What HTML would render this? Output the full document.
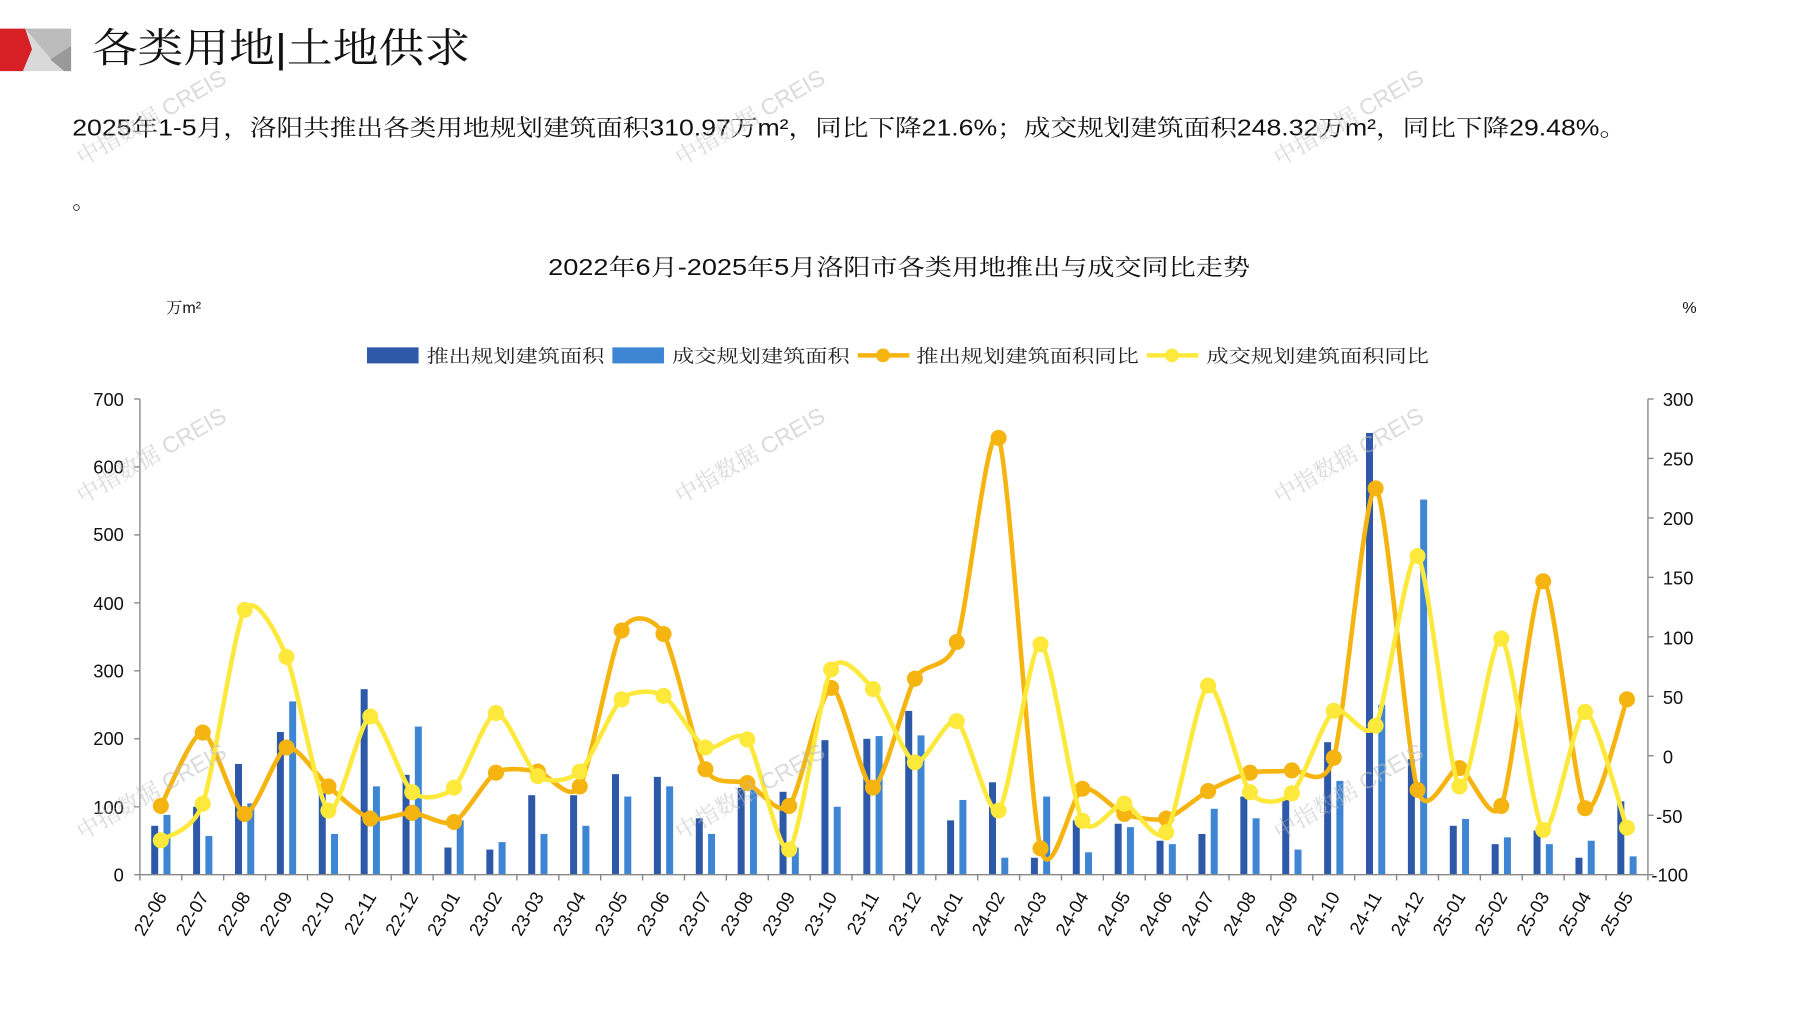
<!DOCTYPE html>
<html><head><meta charset="utf-8">
<style>
html,body{margin:0;padding:0;background:#fff;}
svg{display:block;}
text{font-family:"Liberation Sans","Noto Serif CJK SC",serif;}
</style></head>
<body>
<svg id="s" width="1797" height="1010" viewBox="0 0 1567 881" preserveAspectRatio="none" xmlns="http://www.w3.org/2000/svg">
<rect width="1567" height="881" fill="#fff"/>
<polygon points="0,25 22,25 28,43 20,62 0,62" fill="#d71f26"/>
<polygon points="22,25 62,25 62,62 20,62 28,43" fill="#d9d9d9"/>
<polygon points="22,25 62,25 62,40 45,52" fill="#bcbcbc"/>
<polygon points="44,52 62,40 62,62 56,62" fill="#999"/>
<text x="80" y="54" font-size="35" fill="#111" font-family="Noto Serif CJK SC,serif" textLength="330" lengthAdjust="spacingAndGlyphs">各类用地|土地供求</text>
<text x="63" y="118" font-size="20" fill="#111" textLength="1355" lengthAdjust="spacingAndGlyphs">2025年1-5月，洛阳共推出各类用地规划建筑面积310.97万m²，同比下降21.6%；成交规划建筑面积248.32万m²，同比下降29.48%。</text>
<text x="63" y="182" font-size="20" fill="#111">。</text>
<text x="478" y="240" font-size="20" fill="#111" textLength="612" lengthAdjust="spacingAndGlyphs">2022年6月-2025年5月洛阳市各类用地推出与成交同比走势</text>
<text x="145" y="273" font-size="14" fill="#111">万m²</text>
<text x="1467" y="273" font-size="14" fill="#111">%</text>
<rect x="320" y="303" width="45" height="14" fill="#2e59a8"/>
<text x="372" y="316" font-size="16" fill="#222" textLength="155" lengthAdjust="spacingAndGlyphs">推出规划建筑面积</text>
<rect x="534" y="303" width="45" height="14" fill="#3e86d3"/>
<text x="586" y="316" font-size="16" fill="#222" textLength="155" lengthAdjust="spacingAndGlyphs">成交规划建筑面积</text>
<line x1="748" y1="310" x2="793" y2="310" stroke="#f5b40f" stroke-width="4"/>
<circle cx="770" cy="310" r="6" fill="#f5b40f"/>
<text x="799" y="316" font-size="16" fill="#222" textLength="194" lengthAdjust="spacingAndGlyphs">推出规划建筑面积同比</text>
<line x1="1000" y1="310" x2="1045" y2="310" stroke="#fde93c" stroke-width="4"/>
<circle cx="1022" cy="310" r="6" fill="#fde93c"/>
<text x="1052" y="316" font-size="16" fill="#222" textLength="194" lengthAdjust="spacingAndGlyphs">成交规划建筑面积同比</text>
<g font-size="16" fill="#111" text-anchor="end">
<text x="108" y="354">700</text><text x="108" y="413">600</text><text x="108" y="472">500</text>
<text x="108" y="532">400</text><text x="108" y="591">300</text><text x="108" y="650">200</text>
<text x="108" y="710">100</text><text x="108" y="769">0</text>
</g>
<g font-size="16" fill="#111">
<text x="1450" y="354">300</text><text x="1450" y="406">250</text><text x="1450" y="458">200</text>
<text x="1450" y="510">150</text><text x="1450" y="562">100</text><text x="1450" y="614">50</text>
<text x="1450" y="666">0</text><text x="1444" y="718">-50</text><text x="1440" y="769">-100</text>
</g>
<g id="plot"></g>
<g id="xl" font-size="16" fill="#111" text-anchor="end">
<text transform="translate(146,782) rotate(-60)">22-06</text>
<text transform="translate(182.5,782) rotate(-60)">22-07</text>
<text transform="translate(219,782) rotate(-60)">22-08</text>
<text transform="translate(255.6,782) rotate(-60)">22-09</text>
<text transform="translate(292.1,782) rotate(-60)">22-10</text>
<text transform="translate(328.7,782) rotate(-60)">22-11</text>
<text transform="translate(365.2,782) rotate(-60)">22-12</text>
<text transform="translate(401.7,782) rotate(-60)">23-01</text>
<text transform="translate(438.3,782) rotate(-60)">23-02</text>
<text transform="translate(474.8,782) rotate(-60)">23-03</text>
<text transform="translate(511.3,782) rotate(-60)">23-04</text>
<text transform="translate(547.8,782) rotate(-60)">23-05</text>
<text transform="translate(584.4,782) rotate(-60)">23-06</text>
<text transform="translate(620.9,782) rotate(-60)">23-07</text>
<text transform="translate(657.4,782) rotate(-60)">23-08</text>
<text transform="translate(694,782) rotate(-60)">23-09</text>
<text transform="translate(730.5,782) rotate(-60)">23-10</text>
<text transform="translate(767,782) rotate(-60)">23-11</text>
<text transform="translate(803.6,782) rotate(-60)">23-12</text>
<text transform="translate(840.1,782) rotate(-60)">24-01</text>
<text transform="translate(876.6,782) rotate(-60)">24-02</text>
<text transform="translate(913.2,782) rotate(-60)">24-03</text>
<text transform="translate(949.7,782) rotate(-60)">24-04</text>
<text transform="translate(986.2,782) rotate(-60)">24-05</text>
<text transform="translate(1022.8,782) rotate(-60)">24-06</text>
<text transform="translate(1059.3,782) rotate(-60)">24-07</text>
<text transform="translate(1095.8,782) rotate(-60)">24-08</text>
<text transform="translate(1132.4,782) rotate(-60)">24-09</text>
<text transform="translate(1168.9,782) rotate(-60)">24-10</text>
<text transform="translate(1205.4,782) rotate(-60)">24-11</text>
<text transform="translate(1242,782) rotate(-60)">24-12</text>
<text transform="translate(1278.5,782) rotate(-60)">25-01</text>
<text transform="translate(1315,782) rotate(-60)">25-02</text>
<text transform="translate(1351.6,782) rotate(-60)">25-03</text>
<text transform="translate(1388.1,782) rotate(-60)">25-04</text>
<text transform="translate(1424.6,782) rotate(-60)">25-05</text>
</g>
<g font-size="20" fill="#bbb" fill-opacity="0.55" font-family="Liberation Sans,Noto Sans CJK SC,sans-serif">
<text transform="translate(72,145) rotate(-30)">中指数据 CREIS</text>
<text transform="translate(594,145) rotate(-30)">中指数据 CREIS</text>
<text transform="translate(1116,145) rotate(-30)">中指数据 CREIS</text>
<text transform="translate(72,440) rotate(-30)">中指数据 CREIS</text>
<text transform="translate(594,440) rotate(-30)">中指数据 CREIS</text>
<text transform="translate(1116,440) rotate(-30)">中指数据 CREIS</text>
<text transform="translate(72,733) rotate(-30)">中指数据 CREIS</text>
<text transform="translate(594,733) rotate(-30)">中指数据 CREIS</text>
<text transform="translate(1116,733) rotate(-30)">中指数据 CREIS</text>
</g>
</svg>
<script>
(function(){
var ns="http://www.w3.org/2000/svg",g=document.getElementById("plot");
function el(n,a){var e=document.createElementNS(ns,n);for(var k in a)e.setAttribute(k,a[k]);g.appendChild(e);return e;}
var L=122,R=1437,Y0=763,step=(R-L)/36,py=(763-348)/700;
var dark=[72,100,163,210,120,273,147,40,37,117,117,148,144,83,128,122,198,200,241,80,136,25,80,75,50,60,115,110,195,650,170,72,45,65,25,108];
var light=[88,57,105,255,60,130,218,80,48,60,72,115,130,60,125,40,100,204,205,110,25,115,33,70,45,97,83,37,138,250,552,82,55,45,50,27];
var org=[703,639,710,652,686,714,709,717,674,673,686,550,553,671,683,703,600,687,592,560,382,740,688,710,714,690,674,672,661,426,689,670,703,507,705,610];
var yel=[733,701,532,573,707,625,691,687,622,677,673,610,607,652,645,741,584,601,665,629,707,562,716,701,726,598,691,692,620,633,485,686,557,724,621,722];
el("line",{x1:L,y1:348,x2:L,y2:Y0,stroke:"#888","stroke-width":1.2});
el("line",{x1:R,y1:348,x2:R,y2:Y0,stroke:"#888","stroke-width":1.2});
for(var i=0;i<8;i++){var y=Y0-i*100*py;el("line",{x1:L-5,y1:y,x2:L,y2:y,stroke:"#888","stroke-width":1.2});}
for(var i=0;i<9;i++){var y=Y0-i*(415/8);el("line",{x1:R,y1:y,x2:R+5,y2:y,stroke:"#888","stroke-width":1.2});}
for(var i=0;i<=36;i++){var x=L+i*step;el("line",{x1:x,y1:Y0,x2:x,y2:Y0+5,stroke:"#888","stroke-width":1.2});}
var cx=[];for(var i=0;i<36;i++)cx.push(L+step*(i+0.5));
for(var i=0;i<36;i++){
 el("rect",{x:cx[i]-8.4,y:Y0-dark[i]*py,width:6.1,height:dark[i]*py,fill:"#2e59a8"});
 el("rect",{x:cx[i]+2.3,y:Y0-light[i]*py,width:6.1,height:light[i]*py,fill:"#3e86d3"});
}
el("line",{x1:L,y1:Y0,x2:R,y2:Y0,stroke:"#888","stroke-width":1.2});
function path(ys){var d="M"+cx[0]+","+ys[0];
 for(var i=0;i<35;i++){var p0=i>0?i-1:i,p3=i<34?i+2:i+1;
  var c1x=cx[i]+(cx[i+1]-cx[p0])/8,c1y=ys[i]+(ys[i+1]-ys[p0])/8;
  var c2x=cx[i+1]-(cx[p3]-cx[i])/8,c2y=ys[i+1]-(ys[p3]-ys[i])/8;
  d+=" C"+c1x+","+c1y+" "+c2x+","+c2y+" "+cx[i+1]+","+ys[i+1];}
 return d;}
[[org,"#f5b40f"],[yel,"#fde93c"]].forEach(function(s){
 el("path",{d:path(s[0]),fill:"none",stroke:s[1],"stroke-width":4});
 for(var i=0;i<36;i++)el("circle",{cx:cx[i],cy:s[0][i],r:7,fill:s[1]});
});
})();
</script>
</body></html>
